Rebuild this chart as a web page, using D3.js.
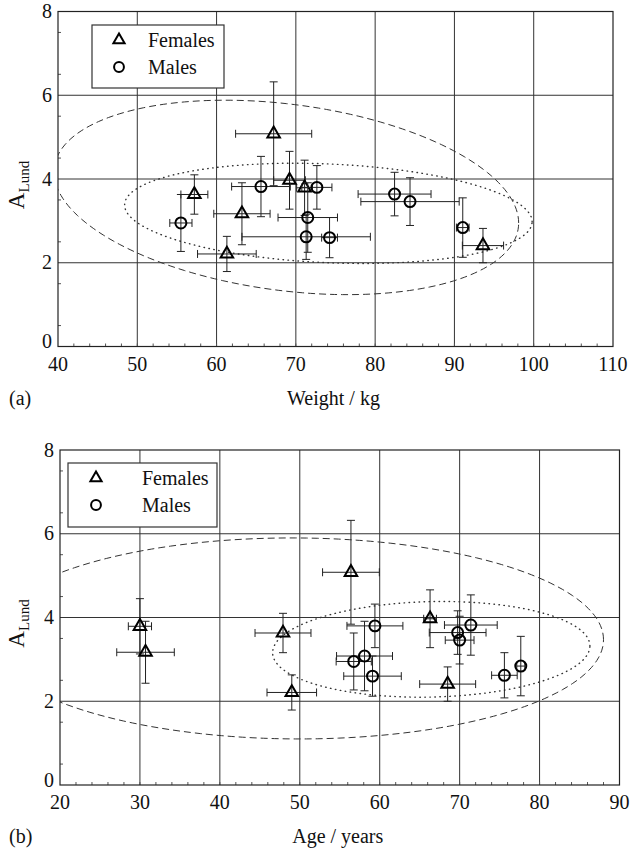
<!DOCTYPE html>
<html>
<head>
<meta charset="utf-8">
<script src="https://cdn.jsdelivr.net/npm/d3@7"></script>
<style>
  body { margin: 0; background: #fff; }
  svg text { fill: #111; }
</style>
</head>
<body>
<svg id="chart" width="630" height="850" font-family="'Liberation Serif', 'Times New Roman', Times, 'DejaVu Serif', serif"></svg>
<script>
// ---- data ----
// females: A_Lund with weight and age
var femaleA       = [3.63, 2.21, 3.17, 5.08, 3.97, 3.79, 2.41];
var femaleAErr    = [0.47, 0.42, 0.74, 1.24, 0.69, 0.66, 0.41];
var femaleWeight  = [57.2, 61.3, 63.2, 67.2, 69.2, 71.1, 93.6];
var femaleWErr    = [1.7, 3.7, 3.55, 4.8, 2.0, 1.0, 2.6];
var femaleAge     = [47.9, 49.0, 30.7, 56.4, 66.3, 30.0, 68.5];
var femaleAgeErr  = [3.5, 3.1, 3.6, 3.55, 0.8, 1.45, 3.5];

// males
var maleA       = [2.95, 3.82, 3.08, 2.62, 3.80, 2.60, 3.64, 3.46, 2.84];
var maleAErr    = [0.68, 0.72, 0.83, 0.54, 0.52, 0.48, 0.52, 0.57, 0.71];
var maleWeight  = [55.5, 65.6, 71.5, 71.3, 72.65, 74.25, 82.45, 84.4, 91.05];
var maleWErr    = [1.4, 3.7, 3.75, 8.1, 1.9, 1.0, 4.6, 6.2, 0.8];
var maleAge     = [56.75, 71.4, 58.1, 75.6, 59.4, 59.1, 69.75, 70.0, 77.65];
var maleAgeErr  = [2.2, 3.3, 3.5, 1.6, 3.5, 3.6, 3.55, 1.8, 0.5];

// ellipses: centre, half widths, tilt = y shift at the right tip
var weightEllipses = [
  {cx: 68.8, cy: 3.56, rx: 29.3, ry: 2.24, tilt: -0.61, style: "dash"},
  {cx: 74.1, cy: 3.18, rx: 25.7, ry: 1.18, tilt: -0.20, style: "dot"}
];
var ageEllipses = [
  {cx: 49.5, cy: 3.50, rx: 38.5, ry: 2.40, tilt: -0.03, style: "dash"},
  {cx: 66.45, cy: 3.24, rx: 19.85, ry: 1.14, tilt: 0.08, style: "dot"}
];

var weightTicks = [40, 50, 60, 70, 80, 90, 100, 110];
var ageTicks    = [20, 30, 40, 50, 60, 70, 80, 90];
var aTicks      = [0, 2, 4, 6, 8];
var legendNames = ["Females", "Males"];

var svg = d3.select("#chart");

function drawPanel(p) {
  var x = d3.scaleLinear().domain(d3.extent(p.xTicks)).range([p.left, p.right]);
  var y = d3.scaleLinear().domain([0, 8]).range([p.bottom, p.top]);
  var g = svg.append("g");

  var clipId = "clip" + p.id;
  svg.append("clipPath").attr("id", clipId).append("rect")
      .attr("x", p.left).attr("y", p.top)
      .attr("width", p.right - p.left).attr("height", p.bottom - p.top);

  // grid
  g.selectAll(".vg").data(p.xTicks.slice(1, -1)).enter().append("line")
      .attr("x1", d => x(d)).attr("x2", d => x(d))
      .attr("y1", p.top).attr("y2", p.bottom)
      .attr("stroke", "#333").attr("stroke-width", 1);
  g.selectAll(".hg").data(aTicks.slice(1, -1)).enter().append("line")
      .attr("y1", d => y(d)).attr("y2", d => y(d))
      .attr("x1", p.left).attr("x2", p.right)
      .attr("stroke", "#333").attr("stroke-width", 1);

  // minor ticks
  g.selectAll(".my").data(d3.range(0.5, 8, 1)).enter().append("line")
      .attr("x1", p.left).attr("x2", p.left + 3)
      .attr("y1", d => y(d)).attr("y2", d => y(d))
      .attr("stroke", "#555");
  g.selectAll(".mx").data(d3.range(p.xTicks[0] + 2, p.xTicks[p.xTicks.length - 1], 2)).enter().append("line")
      .attr("x1", d => x(d)).attr("x2", d => x(d))
      .attr("y1", p.bottom).attr("y2", p.bottom - 3)
      .attr("stroke", "#555");

  // frame
  g.append("rect")
      .attr("x", p.left).attr("y", p.top)
      .attr("width", p.right - p.left).attr("height", p.bottom - p.top)
      .attr("fill", "none").attr("stroke", "#222").attr("stroke-width", 1.2);

  // tick labels
  g.selectAll(".xl").data(p.xTicks).enter().append("text")
      .attr("x", d => x(d)).attr("y", p.bottom + 24)
      .attr("text-anchor", "middle").style("font-size", "20px")
      .text(d => d);
  g.selectAll(".yl").data(aTicks).enter().append("text")
      .attr("x", p.left - 6).attr("y", d => y(d) - (d == 0 ? 5 : 0)).attr("dy", "0.33em")
      .attr("text-anchor", "end").style("font-size", "20px")
      .text(d => d);

  // axis titles
  g.append("text")
      .attr("x", (p.left + p.right) / 2 - 2).attr("y", p.bottom + 58)
      .attr("text-anchor", "middle").style("font-size", "20px")
      .text(p.xTitle);
  g.append("text")
      .attr("x", 9).attr("y", p.bottom + 58)
      .style("font-size", "20px")
      .text(p.tag);
  var yt = g.append("text")
      .attr("transform", "translate(" + 24 + "," + ((p.top + p.bottom) / 2 + 6) + ") rotate(-90)")
      .attr("text-anchor", "middle");
  yt.append("tspan").style("font-size", "23px").text("A");
  yt.append("tspan").style("font-size", "15px").attr("dy", 5).text("Lund");

  // ellipses
  var line = d3.line().curve(d3.curveLinearClosed);
  var ts = d3.range(0, 2 * Math.PI, Math.PI / 90);
  g.append("g").attr("clip-path", "url(#" + clipId + ")")
    .selectAll("path").data(p.ellipses).enter().append("path")
      .attr("d", e => line(ts.map(t => [
          x(e.cx + e.rx * Math.cos(t)),
          y(e.cy + e.ry * Math.sin(t) + e.tilt * Math.cos(t))
      ])))
      .attr("fill", "none").attr("stroke", "#333")
      .attr("stroke-width", e => e.style == "dot" ? 1.4 : 1)
      .attr("stroke-linecap", e => e.style == "dot" ? "round" : "butt")
      .attr("stroke-dasharray", e => e.style == "dot" ? "0.5,4.5" : "7,4");

  // error bars and markers
  var cap = 4;
  p.series.forEach(function(s) {
    var pts = s.a.map((a, i) => ({x: s.x[i], xe: s.xe[i], a: a, ae: s.ae[i]}));
    var eb = g.append("g").attr("stroke", "#222").attr("stroke-width", 1);
    pts.forEach(function(d) {
      var cx = x(d.x), cy = y(d.a);
      eb.append("line").attr("x1", x(d.x - d.xe)).attr("x2", x(d.x + d.xe)).attr("y1", cy).attr("y2", cy);
      eb.append("line").attr("x1", x(d.x - d.xe)).attr("x2", x(d.x - d.xe)).attr("y1", cy - cap).attr("y2", cy + cap);
      eb.append("line").attr("x1", x(d.x + d.xe)).attr("x2", x(d.x + d.xe)).attr("y1", cy - cap).attr("y2", cy + cap);
      eb.append("line").attr("x1", cx).attr("x2", cx).attr("y1", y(d.a - d.ae)).attr("y2", y(d.a + d.ae));
      eb.append("line").attr("x1", cx - cap).attr("x2", cx + cap).attr("y1", y(d.a - d.ae)).attr("y2", y(d.a - d.ae));
      eb.append("line").attr("x1", cx - cap).attr("x2", cx + cap).attr("y1", y(d.a + d.ae)).attr("y2", y(d.a + d.ae));
    });
    g.selectAll(null).data(pts).enter().append("path")
      .attr("d", d3.symbol().type(s.shape).size(s.size))
      .attr("transform", d => "translate(" + x(d.x) + "," + y(d.a) + ")")
      .attr("fill", "none").attr("stroke", "#000").attr("stroke-width", 2);
  });

  // legend
  var L = p.legend;
  g.append("rect").attr("x", L.x).attr("y", L.y).attr("width", L.w).attr("height", L.h)
      .attr("fill", "#fff").attr("stroke", "#333").attr("stroke-width", 1.2);
  legendNames.forEach(function(name, i) {
    var s = p.series[i];
    g.append("path")
      .attr("d", d3.symbol().type(s.shape).size(s.size * 0.8))
      .attr("transform", "translate(" + (L.x + L.sx) + "," + (L.y + 15 + i * 27) + ")")
      .attr("fill", "none").attr("stroke", "#000").attr("stroke-width", 2);
    g.append("text").attr("x", L.x + L.tx).attr("y", L.y + 22 + i * 27)
      .style("font-size", "20px").text(name);
  });
}

drawPanel({
  id: "a", tag: "(a)", xTitle: "Weight / kg", xTicks: weightTicks,
  left: 58, right: 613, top: 11.5, bottom: 346.5,
  ellipses: weightEllipses,
  legend: {x: 92, y: 25, w: 132, h: 63, sx: 27, tx: 56},
  series: [
    {a: femaleA, ae: femaleAErr, x: femaleWeight, xe: femaleWErr, shape: d3.symbolTriangle, size: 68},
    {a: maleA, ae: maleAErr, x: maleWeight, xe: maleWErr, shape: d3.symbolCircle, size: 95}
  ]
});

drawPanel({
  id: "b", tag: "(b)", xTitle: "Age / years", xTicks: ageTicks,
  left: 60, right: 619.5, top: 450, bottom: 785,
  ellipses: ageEllipses,
  legend: {x: 68, y: 463, w: 149, h: 64, sx: 28, tx: 74},
  series: [
    {a: femaleA, ae: femaleAErr, x: femaleAge, xe: femaleAgeErr, shape: d3.symbolTriangle, size: 68},
    {a: maleA, ae: maleAErr, x: maleAge, xe: maleAgeErr, shape: d3.symbolCircle, size: 95}
  ]
});
</script>
</body>
</html>
